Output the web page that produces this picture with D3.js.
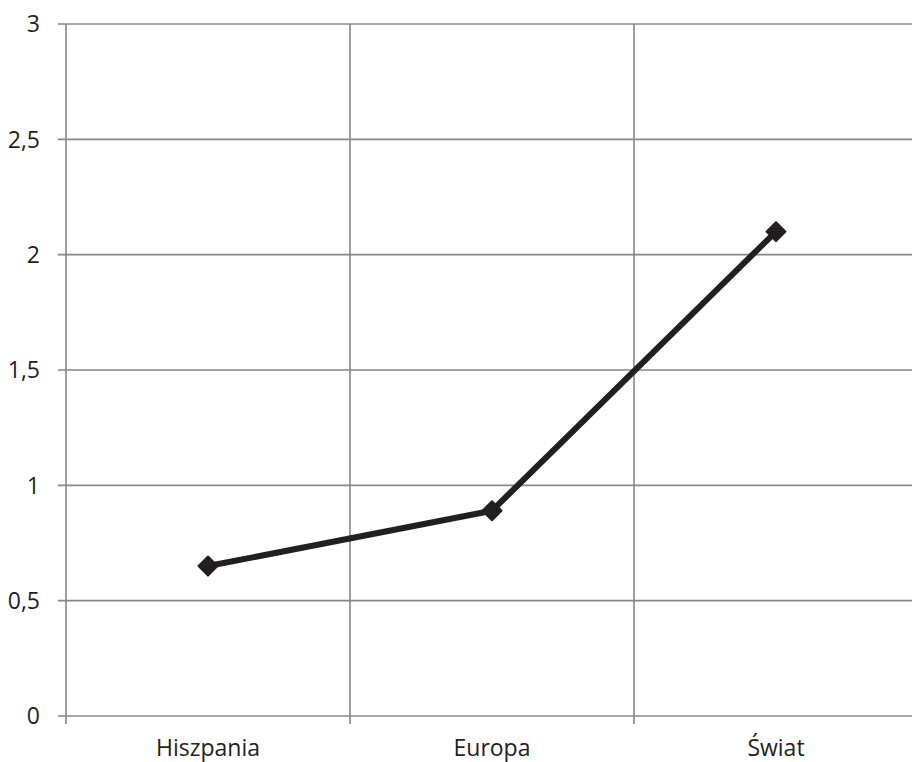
<!DOCTYPE html>
<html><head><meta charset="utf-8">
<script src="https://cdn.jsdelivr.net/npm/d3@7"></script>
<style>html,body{margin:0;padding:0;background:#fff;overflow:hidden}</style>
</head><body>
<svg id="c" width="912" height="762"></svg>
<script>
const categories = ["Hiszpania", "Europa", "Świat"];
const values = [0.65, 0.89, 2.1];
const yTicks = [0, 0.5, 1, 1.5, 2, 2.5, 3];
const yTickLabels = ["0", "0,5", "1", "1,5", "2", "2,5", "3"];

(function () {
const svg = d3.select("#c");
const mLeft = 66, mRight = 918, mTop = 24, mBottom = 716;
const font = "'Open Sans', sans-serif";
const gridColor = "#878787";

const x = d3.scaleBand().domain(categories).range([mLeft, mRight]);
const y = d3.scaleLinear().domain([0, 3]).range([mBottom, mTop]);

// horizontal gridlines
svg.append("g").selectAll("line").data(yTicks).join("line")
  .attr("x1", mLeft - 8).attr("x2", mRight)
  .attr("y1", d => y(d)).attr("y2", d => y(d))
  .attr("stroke", gridColor).attr("stroke-width", 1.6);

// vertical gridlines at category boundaries
const bounds = categories.map(c => x(c)).concat([x(categories[categories.length-1]) + x.bandwidth()]);
svg.append("g").selectAll("line").data(bounds).join("line")
  .attr("x1", d => d).attr("x2", d => d)
  .attr("y1", mTop)
  .attr("y2", mBottom + 8)
  .attr("stroke", gridColor).attr("stroke-width", 1.6);

// y labels
svg.append("g").selectAll("text").data(yTicks).join("text")
  .attr("x", 40).attr("y", d => y(d)).attr("dy", "0.36em")
  .attr("text-anchor", "end")
  .attr("font-family", font).attr("font-size", 23).attr("fill", "#231f20")
  .text((d, i) => yTickLabels[i]);

// x labels
svg.append("g").selectAll("text").data(categories).join("text")
  .attr("x", d => x(d) + x.bandwidth() / 2).attr("y", 756)
  .attr("text-anchor", "middle")
  .attr("font-family", font).attr("font-size", 23).attr("fill", "#231f20")
  .text(d => d);

// line
const pts = categories.map((c, i) => [x(c) + x.bandwidth() / 2, y(values[i])]);
svg.append("path").datum(pts)
  .attr("d", d3.line())
  .attr("fill", "none").attr("stroke", "#231f20").attr("stroke-width", 6)
  .attr("stroke-linejoin", "round");

// diamond markers
const r = 9.5;
svg.append("g").selectAll("path").data(pts).join("path")
  .attr("d", d => `M${d[0]},${d[1]-r}L${d[0]+r},${d[1]}L${d[0]},${d[1]+r}L${d[0]-r},${d[1]}Z`)
  .attr("fill", "#231f20").attr("stroke", "#231f20").attr("stroke-width", 2)
  .attr("stroke-linejoin", "round");
})();
</script>
</body></html>
